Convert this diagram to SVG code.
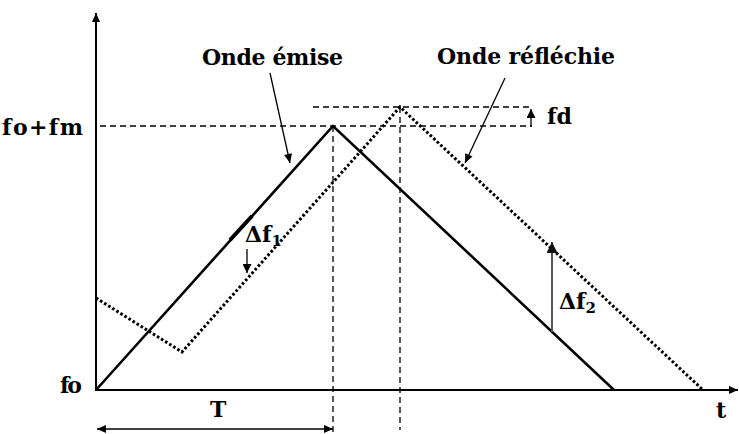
<svg xmlns="http://www.w3.org/2000/svg" width="739" height="434" viewBox="0 0 739 434">
<defs>
<marker id="ah" viewBox="0 0 10 10" refX="10" refY="5" markerWidth="11" markerHeight="9" markerUnits="userSpaceOnUse" orient="auto-start-reverse"><path d="M0,0.5 L10,5 L0,9.5 z" fill="#000"/></marker>
<marker id="ahs" viewBox="0 0 10 10" refX="10" refY="5" markerWidth="9" markerHeight="9" markerUnits="userSpaceOnUse" orient="auto-start-reverse"><path d="M0,0 L10,5 L0,10 z" fill="#000"/></marker>
<marker id="ahg" viewBox="0 0 10 10" refX="10" refY="5" markerWidth="11" markerHeight="11" markerUnits="userSpaceOnUse" orient="auto"><path d="M0,0 L10,5 L0,10 z" fill="#111"/></marker>
</defs>
<style>
text{font-family:"DejaVu Serif","Liberation Serif",serif;font-weight:bold;fill:#000;}
.lbl{font-size:22px;}
.ax{stroke:#000;stroke-width:2;fill:none;}
.dash{stroke:#000;stroke-width:1.3;stroke-dasharray:6 4;fill:none;}
.solid{stroke:#000;stroke-width:2.6;fill:none;}
.dot{stroke:#000;stroke-width:3;stroke-dasharray:2.6 2.2;fill:none;}
.ptr{stroke:#000;stroke-width:1.3;fill:none;}
</style>
<rect width="739" height="434" fill="#fff"/>
<g id="axes">
<line class="ax" x1="96" y1="391" x2="96" y2="13" marker-end="url(#ah)"/>
<line class="ax" x1="96" y1="390" x2="738" y2="390" marker-end="url(#ah)"/>
</g>
<g id="guides">
<line class="dash" x1="100" y1="126" x2="532" y2="126"/>
<line class="dash" x1="313" y1="107" x2="530" y2="107"/>
<line class="dash" x1="333" y1="126" x2="333" y2="434"/>
<line class="dash" x1="400" y1="107" x2="400" y2="430"/>
</g>
<g id="onde-emise">
<polyline class="solid" points="96,390 333,126 614,390"/>
<line x1="230" y1="240" x2="252" y2="216" stroke="#000" stroke-width="4"/>
</g>
<g id="onde-reflechie">
<polyline class="dot" points="96,298 182,352 400,107 703,390"/>
</g>
<g id="connectors">
<line class="ptr" x1="270" y1="73" x2="290" y2="163" marker-end="url(#ah)"/>
<line class="ptr" x1="505" y1="78" x2="465" y2="163" marker-end="url(#ah)"/>
<line class="ptr" x1="531" y1="127" x2="531" y2="109" marker-end="url(#ahs)"/>
<line class="ptr" x1="247" y1="249" x2="247" y2="273" marker-end="url(#ahs)"/>
<line x1="552" y1="332" x2="552" y2="242" stroke="#555" stroke-width="2" marker-end="url(#ahg)"/>
<line class="ptr" x1="97" y1="429" x2="333" y2="429" marker-start="url(#ah)" marker-end="url(#ah)"/>
</g>
<g id="labels">
<text class="lbl" x="202" y="65" textLength="141" lengthAdjust="spacing">Onde émise</text>
<text class="lbl" x="437" y="64" textLength="178" lengthAdjust="spacing">Onde réfléchie</text>
<text class="lbl" x="2" y="135" textLength="81" lengthAdjust="spacing">fo+fm</text>
<text class="lbl" x="60" y="393" textLength="22" lengthAdjust="spacing">fo</text>
<text class="lbl" x="547" y="124">fd</text>
<text class="lbl" x="210" y="417">T</text>
<text class="lbl" x="716" y="418">t</text>
<text class="lbl" x="245" y="242">Δf<tspan font-size="15" dy="4">1</tspan></text>
<text class="lbl" x="559" y="309">Δf<tspan font-size="15" dy="4">2</tspan></text>
</g>
</svg>
